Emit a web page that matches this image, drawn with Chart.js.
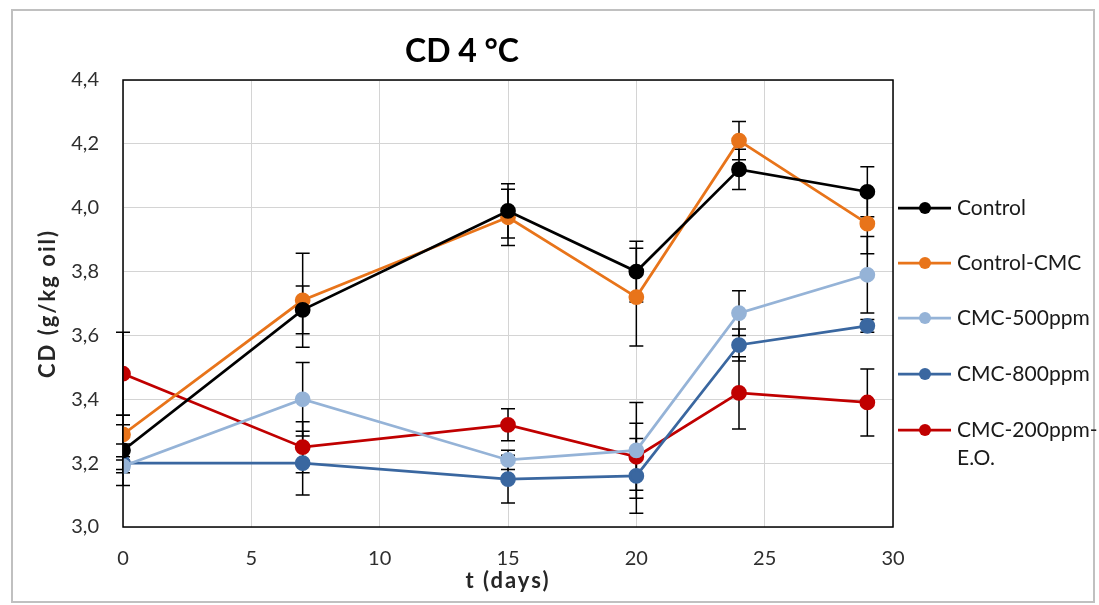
<!DOCTYPE html>
<html>
<head>
<meta charset="utf-8">
<script src="https://cdn.jsdelivr.net/npm/chart.js@4.4.1/dist/chart.umd.min.js"></script>
<style>
  html, body { margin: 0; padding: 0; background: #ffffff; }
  #wrap { width: 1099px; height: 605px; }
</style>
</head>
<body>
<div id="wrap"><canvas id="cd" width="1099" height="605"></canvas></div>
<script>
// Storage time (days)
const days = [0, 7, 15, 20, 24, 29];

// Conjugated dienes, g/kg oil, per treatment
const control      = [3.24, 3.68, 3.99, 3.80, 4.12, 4.05];
const controlCMC   = [3.29, 3.71, 3.97, 3.72, 4.21, 3.95];
const cmc500       = [3.19, 3.40, 3.21, 3.24, 3.67, 3.79];
const cmc800       = [3.20, 3.20, 3.15, 3.16, 3.57, 3.63];
const cmc200EO     = [3.48, 3.25, 3.32, 3.22, 3.42, 3.39];

// Standard deviations (error bar half-lengths)
const controlErr    = [0.11, 0.075, 0.085, 0.095, 0.063, 0.078];
const controlCMCErr = [0.03, 0.147, 0.088, 0.153, 0.060, 0.094];
const cmc500Err     = [0.02, 0.115, 0.030, 0.150, 0.070, 0.120];
const cmc800Err     = [0.02, 0.100, 0.075, 0.117, 0.050, 0.020];
const cmc200EOErr   = [0.13, 0.080, 0.050, 0.105, 0.113, 0.105];

// Axis ticks
const yTicks = [3.0, 3.2, 3.4, 3.6, 3.8, 4.0, 4.2, 4.4];
const xTicks = [0, 5, 10, 15, 20, 25, 30];

const seriesNames = ['Control', 'Control-CMC', 'CMC-500ppm', 'CMC-800ppm', 'CMC-200ppm-E.O.'];
const legendLines = [['Control'], ['Control-CMC'], ['CMC-500ppm'], ['CMC-800ppm'], ['CMC-200ppm-', 'E.O.']];
const seriesColors = ['#000000', '#E8741A', '#95B3D7', '#3A67A0', '#C00000'];

const FONT = 'Lato, "Open Sans", "DejaVu Sans", sans-serif';

const values = [control, controlCMC, cmc500, cmc800, cmc200EO];
const errors = [controlErr, controlCMCErr, cmc500Err, cmc800Err, cmc200EOErr];

const datasets = seriesNames.map((name, i) => ({
  label: name,
  data: days.map((d, j) => ({ x: d, y: values[i][j] })),
  errors: errors[i],
  borderColor: seriesColors[i],
  backgroundColor: seriesColors[i],
  pointBackgroundColor: seriesColors[i],
  pointBorderColor: seriesColors[i],
  borderWidth: 2.75,
  pointRadius: 6.5,
  pointHoverRadius: 6.5,
  tension: 0
}));

// Vertical error bars with caps, placed through the chart scales
const errorBars = {
  id: 'errorBars',
  beforeDatasetsDraw(chart) {
    const { ctx, scales: { x, y } } = chart;
    ctx.save();
    ctx.strokeStyle = '#000000';
    ctx.lineWidth = 1.5;
    chart.data.datasets.forEach(ds => {
      ds.data.forEach((pt, j) => {
        const e = ds.errors[j];
        const px = x.getPixelForValue(pt.x);
        const top = y.getPixelForValue(pt.y + e);
        const bot = y.getPixelForValue(pt.y - e);
        ctx.beginPath();
        ctx.moveTo(px, top); ctx.lineTo(px, bot);
        ctx.moveTo(px - 7, top); ctx.lineTo(px + 7, top);
        ctx.moveTo(px - 7, bot); ctx.lineTo(px + 7, bot);
        ctx.stroke();
      });
    });
    ctx.restore();
  }
};

// Frame, plot border, titles and legend
const decorations = {
  id: 'decorations',
  beforeDraw(chart) {
    const { ctx } = chart;
    ctx.save();
    ctx.fillStyle = '#ffffff';
    ctx.fillRect(0, 0, chart.width, chart.height);
    ctx.strokeStyle = '#c0c0c0';
    ctx.lineWidth = 2;
    ctx.strokeRect(12, 10, 1082, 592);
    ctx.restore();
  },
  afterDraw(chart) {
    const { ctx, chartArea: a } = chart;
    ctx.save();
    ctx.strokeStyle = '#000000';
    ctx.lineWidth = 1.5;
    ctx.strokeRect(a.left, a.top, a.right - a.left, a.bottom - a.top);

    ctx.fillStyle = '#000000';
    ctx.textAlign = 'center';
    ctx.textBaseline = 'middle';
    ctx.font = 'bold 32px ' + FONT;
    ctx.fillText('CD 4 °C', 462, 52);

    ctx.fillStyle = '#262626';
    ctx.font = 'bold 22px ' + FONT;
    ctx.letterSpacing = '2px';
    ctx.fillText('t (days)', (a.left + a.right) / 2, 581);
    ctx.save();
    ctx.translate(48, (a.top + a.bottom) / 2);
    ctx.rotate(-Math.PI / 2);
    ctx.fillText('CD (g/kg oil)', 0, 0);
    ctx.restore();
    ctx.letterSpacing = '0px';

    // Legend
    const ys = [208, 263, 318, 374, 430];
    ctx.textAlign = 'left';
    ctx.font = '21px ' + FONT;
    chart.data.datasets.forEach((ds, i) => {
      const yy = ys[i];
      ctx.strokeStyle = ds.borderColor;
      ctx.lineWidth = 2.75;
      ctx.beginPath();
      ctx.moveTo(898, yy); ctx.lineTo(951, yy);
      ctx.stroke();
      ctx.fillStyle = ds.borderColor;
      ctx.beginPath();
      ctx.arc(925, yy, 6, 0, Math.PI * 2);
      ctx.fill();
      ctx.fillStyle = '#1a1a1a';
      legendLines[i].forEach((t, k) => ctx.fillText(t, 957, yy + k * 28));
    });
    ctx.restore();
  }
};

const gridColor = '#d4d4d4';
const tickFont = { family: FONT, size: 20 };

new Chart(document.getElementById('cd'), {
  type: 'line',
  data: { datasets },
  options: {
    responsive: false,
    animation: false,
    layout: { padding: { left: 0, right: 206, top: 80, bottom: 0 } },
    plugins: {
      legend: { display: false },
      title: { display: false },
      tooltip: { enabled: false }
    },
    scales: {
      x: {
        type: 'linear',
        min: xTicks[0],
        max: xTicks[xTicks.length - 1],
        afterBuildTicks: s => { s.ticks = xTicks.map(v => ({ value: v })); },
        afterFit: s => { s.height = 78; },
        border: { display: false },
        grid: { color: gridColor, lineWidth: 1, drawTicks: false },
        ticks: { font: tickFont, color: '#2e2e2e', padding: 20, maxRotation: 0, autoSkip: false }
      },
      y: {
        type: 'linear',
        min: yTicks[0],
        max: yTicks[yTicks.length - 1],
        afterBuildTicks: s => { s.ticks = yTicks.map(v => ({ value: v })); },
        afterFit: s => { s.width = 123; },
        border: { display: false },
        grid: { color: gridColor, lineWidth: 1, drawTicks: false },
        ticks: {
          font: tickFont, color: '#2e2e2e', padding: 24, autoSkip: false,
          callback: v => v.toFixed(1).replace('.', ',')
        }
      }
    }
  },
  plugins: [decorations, errorBars]
});
</script>
</body>
</html>
